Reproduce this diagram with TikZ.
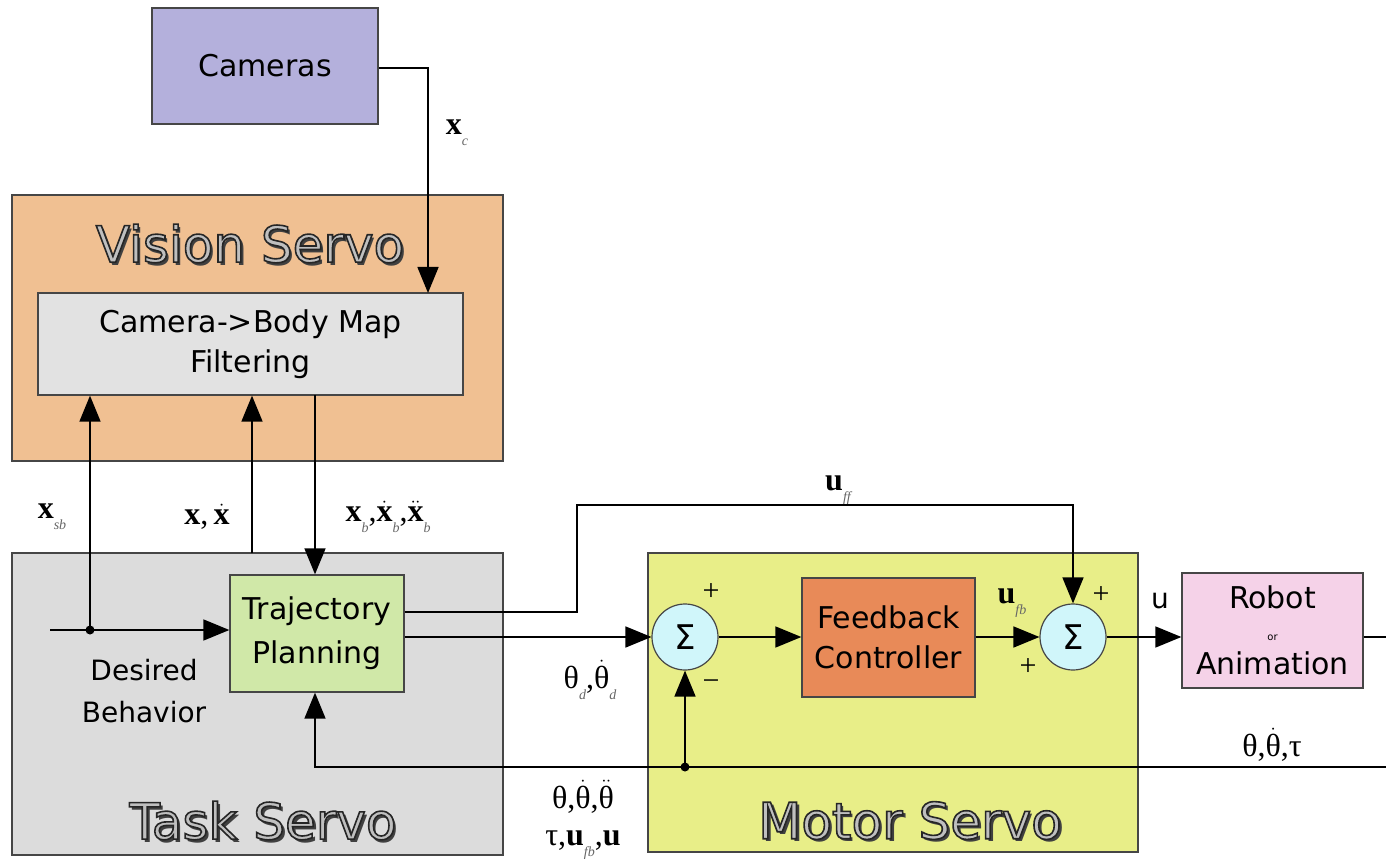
\documentclass[tikz,border=0pt]{standalone}
\usepackage{fontspec}
\setmainfont{DejaVu Sans}
\newfontfamily\tm{Liberation Serif}
\usetikzlibrary{arrows.meta,calc}
\definecolor{camc}{RGB}{180,176,220}
\definecolor{visc}{RGB}{240,192,146}
\definecolor{mapc}{RGB}{226,226,226}
\definecolor{taskc}{RGB}{220,220,220}
\definecolor{trajc}{RGB}{208,232,168}
\definecolor{motc}{RGB}{232,238,136}
\definecolor{fbc}{RGB}{232,138,88}
\definecolor{sumc}{RGB}{208,246,250}
\definecolor{robc}{RGB}{245,210,232}
\definecolor{edgec}{RGB}{70,70,70}
\newcommand\sub[1]{\raisebox{-0.35em}{\fontsize{14}{14}\selectfont\tm\itshape\color{black!60}#1}}
\newcommand\bx{{\tm\bfseries x}}
\newcommand\bu{{\tm\bfseries u}}
\newcommand\thet{\mbox{\tm θ}}
\newcommand\ttl[1]{%
  \rlap{\hspace{3pt}\raisebox{-3pt}{\color{black!75}#1}}%
  {\color{black!25}\special{pdf:literal direct 2 Tr 1.6 w 0.15 G}#1\special{pdf:literal direct 0 Tr 0 G}}}
\tikzset{
  box/.style={draw=edgec, line width=1.3pt, inner sep=0pt, align=center,
    font=\fontsize{30}{44}\selectfont},
  group/.style={draw=edgec, line width=1.3pt, inner sep=0pt},
  sumnode/.style={circle, draw=edgec, line width=1.2pt, fill=sumc, minimum size=66pt,
    inner sep=0pt, font=\fontsize{34}{36}\selectfont},
  arr/.style={line width=1.6pt, -{Triangle[length=26pt,width=21pt]}},
  ln/.style={line width=1.6pt},
  dotn/.style={circle, fill=black, inner sep=0pt, minimum size=9pt},
  lab/.style={inner sep=0pt, font=\fontsize{32}{36}\selectfont\tm},
  sign/.style={inner sep=0pt, font=\fontsize{30}{32}\selectfont\tm},
  title/.style={inner sep=0pt, font=\fontsize{50}{54}\selectfont},
}
\begin{document}
\begin{tikzpicture}[x=1pt,y=-1pt]
\useasboundingbox (0,0) rectangle (1386,866);
\fill[white] (0,0) rectangle (1386,866);
% group boxes
\node[group, fill=visc, minimum width=491pt, minimum height=266pt] (vis) at (257.5,328) {};
\node[group, fill=taskc, minimum width=491pt, minimum height=302pt] (task) at (257.5,704) {};
\node[group, fill=motc, minimum width=490pt, minimum height=299pt] (motor) at (893,702.5) {};
\node[title] (vist) at (250,245) {\ttl{Vision Servo}};
\node[title] (taskt) at (263,822) {\ttl{Task Servo}};
\node[title] (mott) at (910,822) {\ttl{Motor Servo}};
% blocks
\node[box, fill=camc, minimum width=226pt, minimum height=116pt] (cam) at (265,66) {Cameras};
\node[box, fill=mapc, minimum width=425pt, minimum height=102pt, font=\fontsize{30}{40}\selectfont] (map) at (250.5,344) {Camera->Body Map\\Filtering};
\node[box, fill=trajc, minimum width=174pt, minimum height=117pt] (traj) at (317,633.5) {Trajectory\\Planning};
\node[box, fill=fbc, minimum width=173pt, minimum height=119pt, font=\fontsize{30}{40}\selectfont] (fb) at (888.5,637.5) {Feedback\\Controller};
\node[box, fill=robc, minimum width=181pt, minimum height=115pt, font=\fontsize{30}{30}\selectfont] (robot) at (1272.5,630.5) {Robot\\[2pt]{\fontsize{10}{10}\selectfont or}\\[4pt]Animation};
\node[sumnode] (s1) at (685,637) {Σ};
\node[sumnode] (s2) at (1073,637) {Σ};
% coordinates
\coordinate (cin) at (428,293);
\coordinate (db) at (50,630);
\coordinate (xs) at (252,553);
\coordinate (xb) at (315,395);
\coordinate (uff1) at (577,612);
\coordinate (uff2) at (577,505);
\coordinate (rout) at (1386,637);
\coordinate (fbin) at (1386,767);
\node[dotn] (d1) at (90,630) {};
\node[dotn] (d2) at (685,767) {};
% connectors
\draw[arr] (cam.east |- 0,68) -| (cin);
\draw[arr] (db) -- (db -| traj.west);
\draw[arr] (d1.center) -- (d1 |- map.south);
\draw[arr] (xs) -- (xs |- map.south);
\draw[arr] (xb) -- (xb |- traj.north);
\draw[arr] (traj.east |- uff1) -- (uff1) -- (uff2) -| (s2.north);
\draw[arr] (traj.east |- s1) -- (s1.west);
\draw[arr] (s1.east) -- (fb.west |- s1);
\draw[arr] (fb.east |- s2) -- (s2.west);
\draw[arr] (s2.east) -- (s2 -| robot.west);
\draw[ln] (s2 -| robot.east) -- (rout);
\draw[arr] (fbin) -| (xb |- traj.south);
\draw[arr] (d2.center) -- (s1.south);
% labels
\node[lab] (lxc) at (457,133) {\bx\sub{c}};
\node[lab] (lxsb) at (52,517) {\bx\sub{sb}};
\node[lab] (lxx) at (207,517) {\bx,\,$\dot{\mbox{\bx}}$};
\node[lab] (lxb) at (388,517) {\bx\sub{b},$\dot{\mbox{\bx}}$\sub{b},$\ddot{\mbox{\bx}}$\sub{b}};
\node[lab] (luff) at (838,490) {\bu\sub{ff}};
\node[lab] (lthd) at (590,680) {\thet\sub{d},$\dot{\thet}$\sub{d}};
\node[lab] (lufb) at (1012,603) {\bu\sub{fb}};
\node[lab] (lthr) at (1272,745) {\thet,$\dot{\thet}$,{\tm τ}};
\node[lab] (lthm) at (583,797) {\thet,$\dot{\thet}$,$\ddot{\thet}$};
\node[lab] (ltau) at (583,845) {{\tm τ},\bu\sub{fb},\bu};
\node[inner sep=0pt, font=\fontsize{28}{42}\selectfont, align=center] (ldb) at (144,691) {Desired\\Behavior};
\node[inner sep=0pt, font=\fontsize{28}{30}\selectfont] (lu) at (1160,601) {u};
\node[sign] (p1) at (711,592) {+};
\node[sign] (m1) at (711,685) {\textminus};
\node[sign] (p2) at (1101,595) {+};
\node[sign] (p3) at (1028,667) {+};
\end{tikzpicture}
\end{document}
